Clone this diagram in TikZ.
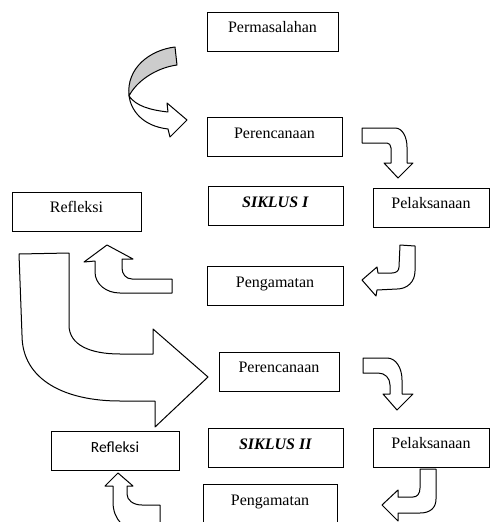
\documentclass[tikz,border=0pt]{standalone}
\usepackage{fontspec}
\setmainfont{Liberation Serif}
\newfontfamily\calibri{Carlito}
\usepackage{tikz}

\tikzset{
  kotak/.style={draw, line width=1pt, minimum width=#1, minimum height=39pt,
    inner sep=0pt, text height=8pt, text depth=6pt,
    font=\fontsize{16}{18}\selectfont},
  kotak/.default=135pt,
  blok/.style={draw, line width=1pt, fill=white, line join=round},
}

\begin{document}
\begin{tikzpicture}[x=1pt, y=-1pt]
\useasboundingbox (0,0) rectangle (490,522);
% siklus I
\node[kotak=131pt] (masalah) at (272.5,31.5) {Permasalahan};
\node[kotak] (rencana1) at (274.5,137) {Perencanaan};
\node[kotak] (siklus1) at (275.5,206) {\textbf{\textit{SIKLUS I}}};
\node[kotak=116pt] (laksana1) at (431,207.5) {Pelaksanaan};
\node[kotak=129pt] (refleksi1) at (76.5,211.5) {Refleksi};
\node[kotak=136pt] (amat1) at (275,286) {Pengamatan};
% siklus II
\node[kotak=120pt] (rencana2) at (279,371.5) {Perencanaan};
\node[kotak] (siklus2) at (275.5,448) {\textbf{\textit{SIKLUS II}}};
\node[kotak=116pt] (laksana2) at (431,447.5) {Pelaksanaan};
\node[kotak=128pt, font=\calibri\fontsize{15.5}{18}\selectfont] (refleksi2) at (115,451) {Refleksi};
\node[kotak=134pt, minimum height=40pt] (amat2) at (270,504) {Pengamatan};

% panah masuk
\draw[blok, fill=gray!40] (175,47) .. controls (150,50) and (126,68) .. (129,96)
  .. controls (136,82) and (155,68) .. (177,65) -- cycle;
\draw[blok] (129,96) .. controls (131,110) and (142,126) .. (168,129) -- (170,137)
  -- (187,120) -- (167,103) -- (168,112) .. controls (150,110) and (136,106) .. cycle;
% panah siklus I
\draw[blok] (362,128) -- (395,128) .. controls (403,128) and (407,138) .. (407,147)
  -- (407,163) -- (413,163) -- (398,178) -- (384,163) -- (391,163) -- (391,148)
  .. controls (391,145) and (389,143) .. (387,143) -- (362,143) -- cycle;
\draw[blok] (400,245) -- (415,246) -- (415,271) .. controls (415,282) and (407,289) .. (397,289)
  -- (377,290) -- (376,296) -- (362,280) -- (377,267) -- (378,273) -- (392,273)
  .. controls (396,273) and (399,271) .. (399,267) -- cycle;
\draw[blok] (172,279) -- (132,279) .. controls (126,279) and (122,274) .. (122,268)
  -- (122,259) -- (133,259) -- (107,245) -- (84,262) -- (95,261) -- (95,272)
  .. controls (95,284) and (106,293) .. (120,293) -- (172,293) -- cycle;
% panah besar ke siklus II
\draw[blok] (19,254) -- (69,253) -- (69,325) .. controls (69,345) and (90,354) .. (120,354)
  -- (153,354) -- (153,329) -- (208,377) -- (155,427) -- (155,401) -- (120,401)
  .. controls (65,401) and (22,380) .. (22,335) -- cycle;
% panah siklus II
\draw[blok] (363,358) -- (387,358) .. controls (396,358) and (402,368) .. (402,380)
  -- (402,394) -- (413,394) -- (397,410) -- (383,394) -- (390,394) -- (390,385)
  .. controls (390,378) and (385,373) .. (378,373) -- (363,373) -- cycle;
\draw[blok] (420,469) -- (436,469) -- (436,499) .. controls (436,508) and (430,513) .. (420,513)
  -- (398,513) -- (398,521) -- (382,505) -- (398,490) -- (398,497) -- (413,497)
  .. controls (417,497) and (420,494) .. (420,488) -- cycle;
\draw[blok] (113,486) -- (113,502) .. controls (113,520) and (125,530) .. (140,534)
  -- (160,534) -- (160,505) -- (142,505) .. controls (133,505) and (127,500) .. (127,494)
  -- (127,486) -- (133,486) -- (118,473) -- (105,486) -- cycle;
\end{tikzpicture}
\end{document}
